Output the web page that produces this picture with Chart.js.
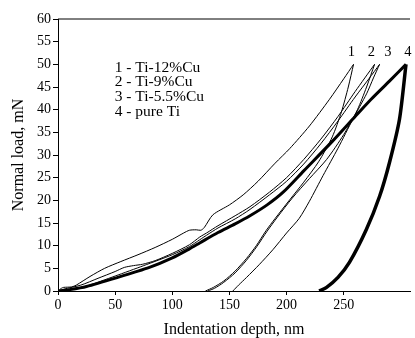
<!DOCTYPE html>
<html>
<head>
<meta charset="utf-8">
<script src="https://cdn.jsdelivr.net/npm/chart.js@4"></script>
<style>
  html, body { margin: 0; padding: 0; background: #fff; }
  #wrap { width: 415px; height: 338px; }
</style>
</head>
<body>
<div id="wrap"><canvas id="nanoChart" width="415" height="338"></canvas></div>
<script>
// [depth nm, load mN]
const load1 = [[0,0],[3,0.6],[5,0.8],[12,0.9],[16,1.3],[28,3.2],[40.8,5.0],[55,6.5],[70,8.0],[85,9.6],[100,11.4],[110,12.8],[115,13.4],[121,13.5],[125,13.4],[128,14.0],[135.5,16.8],[150,19.0],[162,21.2],[175,24.2],[190,28.2],[202.7,31.4],[220,36.4],[237.6,42.3],[250,46.8],[258.6,50]];
const unload1 = [[258.6,50],[254,45],[248,39.5],[240,34],[228,28.5],[215,24],[202.7,20.1],[190,16],[182,13.3],[173.5,10],[165,7.2],[155,4.4],[145,2.2],[136,0.8],[129,0]];

const load2 = [[0,0],[5,0.4],[20,1.3],[35,2.8],[50,4.3],[58,5.2],[66,5.6],[74,5.9],[85,6.7],[100,8.3],[115,10.2],[124,11.9],[130,12.8],[140,14.4],[155,16.6],[168,18.6],[185,21.8],[200,25],[215,29],[230,33.5],[245,38.5],[260,44],[277,50]];
const unload2 = [[277,50],[270,45],[262,40],[250,34.5],[235,29],[220,24.8],[205,20.5],[192,16.3],[183,13.2],[174,9.8],[165,6.8],[155,4],[145,1.9],[137,0.6],[131,0]];

const load3 = [[0,0],[10,0.3],[25,1.1],[50,3.3],[75,5.6],[100,8.0],[115,9.8],[124,11.3],[130,12.3],[140,13.9],[155,15.9],[168,18.0],[185,21.2],[200,24.2],[215,28],[230,32.5],[245,37.5],[260,42.8],[272,46.8],[281.4,50]];
const unload3 = [[281.4,50],[276,47],[270,43.5],[258,37.9],[245,31.5],[232,25.5],[220,19.8],[211,16],[200,12.8],[188,9.1],[176,5.8],[165,3],[158,1.3],[153,0]];

const load4 = [[0,0],[10,0.3],[25,1.0],[51,2.9],[80,5.2],[100,7.3],[115,9.3],[124,10.6],[140,12.9],[155,14.8],[168,16.6],[183,19],[197,21.8],[215,26.5],[240,33],[260,38.5],[274,42.3],[290,46.3],[304.5,50]];
const unload4 = [[304.5,50],[298.8,37.9],[290,28.3],[281.4,20.9],[269.7,13.5],[255,6.3],[245,3],[235,0.8],[228.5,0]];

const legendLines = ['1 - Ti-12%Cu', '2 - Ti-9%Cu', '3 - Ti-5.5%Cu', '4 - pure Ti'];
const curveNumbers = ['1', '2', '3', '4'];
const curvePeaks = [256.6, 274.1, 288.6, 306.1];

const xTitle = 'Indentation depth, nm';
const yTitle = 'Normal load, mN';

const FONT = "'Liberation Serif', 'Times New Roman', serif";

const toPts = arr => arr.map(p => ({ x: p[0], y: p[1] }));

const makeSet = (arr, width) => ({
    data: toPts(arr),
    showLine: true,
    borderColor: '#000',
    borderWidth: width,
    pointRadius: 0,
    tension: 0.25,
    fill: false
});

// top frame line + text labels inside the plot
const textPlugin = {
    id: 'textPlugin',
    afterDraw(chart) {
        const { ctx, chartArea, scales } = chart;
        ctx.save();
        ctx.strokeStyle = '#000';
        ctx.lineWidth = 1;
        ctx.beginPath();
        ctx.moveTo(chartArea.left, chartArea.top);
        ctx.lineTo(chartArea.right, chartArea.top);
        ctx.stroke();

        ctx.fillStyle = '#000';
        ctx.font = '15.5px ' + FONT;
        ctx.textBaseline = 'middle';
        ctx.textAlign = 'left';
        const lx = scales.x.getPixelForValue(49.6);
        const ly = scales.y.getPixelForValue(49.3);
        legendLines.forEach((t, i) => ctx.fillText(t, lx, ly + i * 14.8));

        ctx.font = '14.5px ' + FONT;
        ctx.textAlign = 'center';
        const ny = scales.y.getPixelForValue(52.6);
        curveNumbers.forEach((t, i) => ctx.fillText(t, scales.x.getPixelForValue(curvePeaks[i]), ny));
        ctx.restore();
    }
};

const ctx = document.getElementById('nanoChart').getContext('2d');

new Chart(ctx, {
    type: 'scatter',
    data: {
        datasets: [
            makeSet(load1, 1), makeSet(unload1, 1),
            makeSet(load2, 1), makeSet(unload2, 1),
            makeSet(load3, 1), makeSet(unload3, 1),
            makeSet(load4, 3), makeSet(unload4, 3.5)
        ]
    },
    options: {
        responsive: false,
        animation: false,
        layout: { padding: { left: 0, right: 5, top: 19, bottom: 0 } },
        plugins: {
            legend: { display: false },
            tooltip: { enabled: false }
        },
        scales: {
            x: {
                type: 'linear',
                min: 0,
                max: 308,
                afterFit: (scale) => { scale.height = 47; },
                afterBuildTicks: (scale) => {
                    scale.ticks = scale.ticks.filter(t => t.value % 50 === 0);
                },
                ticks: {
                    stepSize: 50,
                    color: '#000',
                    font: { family: FONT, size: 14 },
                    padding: 2,
                    maxRotation: 0
                },
                grid: { drawOnChartArea: false, drawTicks: true, tickLength: 4, color: '#000' },
                border: { color: '#000', width: 1 },
                title: {
                    display: true,
                    text: xTitle,
                    color: '#000',
                    font: { family: FONT, size: 16, lineHeight: 1.0 },
                    padding: { top: 0, bottom: 0 }
                }
            },
            y: {
                type: 'linear',
                min: 0,
                max: 60,
                afterFit: (scale) => { scale.width = 58; },
                ticks: {
                    stepSize: 5,
                    color: '#000',
                    font: { family: FONT, size: 14 },
                    padding: 2
                },
                grid: { drawOnChartArea: false, drawTicks: true, tickLength: 5, color: '#000' },
                border: { color: '#000', width: 1 },
                title: {
                    display: true,
                    text: yTitle,
                    color: '#000',
                    font: { family: FONT, size: 16, lineHeight: 1.0 },
                    padding: { top: 11, bottom: 0 }
                }
            }
        }
    },
    plugins: [textPlugin]
});
</script>
</body>
</html>
